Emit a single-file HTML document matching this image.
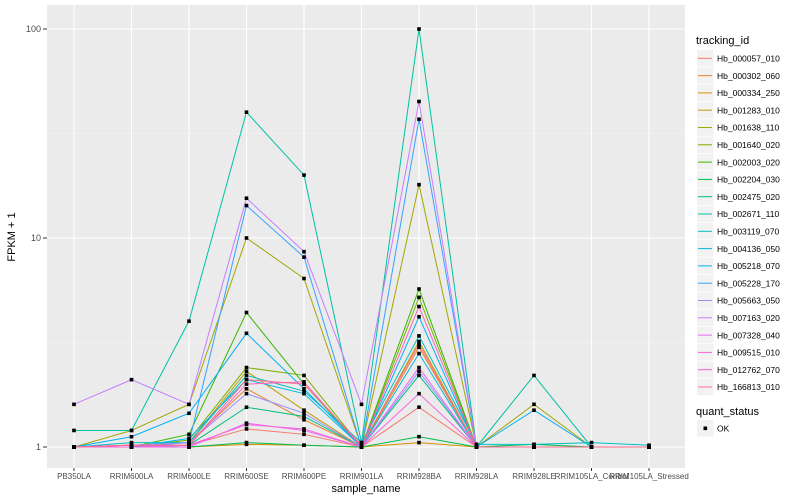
<!DOCTYPE html>
<html><head><meta charset="utf-8"><style>body{margin:0;background:#fff}svg{display:block;font-family:"Liberation Sans",sans-serif}</style></head>
<body>
<svg id="c" width="800" height="500"></svg>
<script>
const samples=["PB350LA","RRIM600LA","RRIM600LE","RRIM600SE","RRIM600PE","RRIM901LA","RRIM928BA","RRIM928LA","RRIM928LE","RRIM105LA_Control","RRIM105LA_Stressed"];
const ids=["Hb_000057_010","Hb_000302_060","Hb_000334_250","Hb_001283_010","Hb_001638_110","Hb_001640_020","Hb_002003_020","Hb_002204_030","Hb_002475_020","Hb_002671_110","Hb_003119_070","Hb_004136_050","Hb_005218_070","Hb_005228_170","Hb_005663_050","Hb_007163_020","Hb_007328_040","Hb_009515_010","Hb_012762_070","Hb_166813_010"];
const colors=["#F8766D","#EA8331","#D89000","#C09B00","#A3A500","#7CAE00","#39B600","#00BB4E","#00BF7D","#00C1A3","#00BFC4","#00BAE0","#00B0F6","#35A2FF","#9590FF","#C77CFF","#E76BF3","#FA62DB","#FF62BC","#FF6C91"];
const v0=[1,1,1.02,1.22,1.15,1,1.55,1,1,1,1];
const v1=[1,1.02,1.05,1.9,1.35,1,3.0,1,1,1,1];
const v2=[1,1,1,1.03,1.02,1,1.05,1,1,1,1];
const v3=[1,1.02,1.05,2.3,1.5,1,3.2,1,1,1,1];
const v4=[1,1.2,1.6,10,6.4,1,18,1,1.6,1,1];
const v5=[1,1,1.08,2.4,2.2,1,5.2,1,1,1,1];
const v6=[1,1,1.15,4.4,2.0,1,5.7,1,1,1,1];
const v7=[1,1,1,1.05,1.02,1,1.12,1,1.03,1,1];
const v8=[1,1,1.02,1.55,1.4,1,2.2,1,1,1,1];
const v9=[1.2,1.2,4,40,20,1.05,100,1,2.2,1,1];
const v10=[1,1.05,1.05,2.2,1.85,1.05,3.4,1.03,1.03,1.05,1.02];
const v11=[1,1,1.1,2.1,1.8,1,2.8,1,1,1,1];
const v12=[1,1.12,1.45,3.5,1.9,1,4.2,1,1.5,1,1];
const v13=[1,1,1.05,14.3,8.1,1,37,1,1,1,1];
const v14=[1,1.02,1.05,1.8,1.45,1,2.3,1,1,1,1];
const v15=[1.6,2.1,1.6,15.5,8.6,1.6,45,1,1,1,1];
const v16=[1,1,1,1.3,1.2,1,2.4,1,1,1,1];
const v17=[1,1,1.02,1.28,1.22,1,1.8,1,1,1,1];
const v18=[1,1.02,1.02,2.0,2.05,1,4.7,1,1,1,1];
const v19=[1,1.02,1.02,2.1,2.0,1.02,3.1,1,1,1,1];
const series=[v0,v1,v2,v3,v4,v5,v6,v7,v8,v9,v10,v11,v12,v13,v14,v15,v16,v17,v18,v19];
const yTicks=[1,10,100];
const NS="http://www.w3.org/2000/svg",svg=document.getElementById("c");
const L=47,R=685,T=5,B=468;
const xs=i=>74+i*57.5;
const ys=v=>447-209*Math.log10(v);
function mk(t,a,p){const e=document.createElementNS(NS,t);for(const k in a)e.setAttribute(k,a[k]);(p||svg).appendChild(e);return e;}
const panel=mk("rect",{x:L,y:T,width:R-L,height:B-T,fill:"#EBEBEB"});


[Math.sqrt(10),Math.sqrt(1000)].forEach(v=>mk("line",{x1:L,x2:R,y1:ys(v),y2:ys(v),stroke:"#F5F5F5","stroke-width":0.6}));
yTicks.forEach(v=>{mk("line",{x1:L,x2:R,y1:ys(v),y2:ys(v),stroke:"#fff","stroke-width":1.1});
const t=mk("text",{x:41,y:ys(v)+3,"text-anchor":"end","font-size":9,fill:"#4D4D4D"});t.textContent=v;


mk("line",{x1:43,x2:L,y1:ys(v),y2:ys(v),stroke:"#333"});});
samples.forEach((s,i)=>{mk("line",{x1:xs(i),x2:xs(i),y1:T,y2:B,stroke:"#fff","stroke-width":1.1});
mk("line",{x1:xs(i),x2:xs(i),y1:B,y2:B+3,stroke:"#333"});
const t=mk("text",{x:xs(i),y:479,"text-anchor":"middle","font-size":8,fill:"#4D4D4D"});t.textContent=s;

});
series.forEach((d,k)=>{const p=mk("polyline",{points:d.map((v,i)=>xs(i)+","+ys(v)).join(" "),fill:"none",stroke:colors[k],"stroke-width":1});

});
series.forEach(d=>d.forEach((v,i)=>{const c=mk("rect",{x:xs(i)-1.8,y:ys(v)-1.8,width:3.6,height:3.6,fill:"#000"});

}));
let t=mk("text",{x:366,y:492,"text-anchor":"middle","font-size":11,fill:"#000"});t.textContent="sample_name";

t=mk("text",{x:0,y:0,transform:"translate(15,237) rotate(-90)","text-anchor":"middle","font-size":11,fill:"#000"});t.textContent="FPKM + 1";

t=mk("text",{x:696,y:44,"font-size":11,fill:"#000"});t.textContent="tracking_id";

ids.forEach((id,k)=>{const y=50+k*17.3;
const g=mk("g",{});


mk("rect",{x:697,y:y,width:16.5,height:16.5,fill:"#F2F2F2"},g);
mk("line",{x1:698,x2:712,y1:y+8.3,y2:y+8.3,stroke:colors[k],"stroke-width":1},g);
const tt=mk("text",{x:717,y:y+11.5,"font-size":8.5,fill:"#000"},g);tt.textContent=id;});
t=mk("text",{x:696,y:415,"font-size":11,fill:"#000"});t.textContent="quant_status";

mk("rect",{x:697,y:420,width:16.5,height:16.5,fill:"#F2F2F2"});
mk("rect",{x:703.5,y:426.5,width:3.6,height:3.6,fill:"#000"});
t=mk("text",{x:717,y:431.5,"font-size":8.5,fill:"#000"});t.textContent="OK";

</script>
</body></html>
